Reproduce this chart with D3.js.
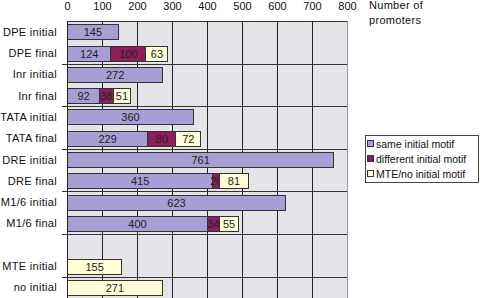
<!DOCTYPE html>
<html>
<head>
<meta charset="utf-8">
<script src="https://cdn.jsdelivr.net/npm/d3@7"></script>
<style>
  body { margin: 0; background: #fff; }
  svg { display: block; font-family: "Liberation Sans", Arial, sans-serif; }
</style>
</head>
<body>
<svg id="chart"></svg>
<script>
// categories top to bottom (one empty slot between M1/6 and MTE)
const categories = ['DPE initial', 'DPE final', 'Inr initial', 'Inr final', 'TATA initial', 'TATA final',
    'DRE initial', 'DRE final', 'M1/6 initial', 'M1/6 final', '', 'MTE initial', 'no initial'];
const sameMotif = [145, 124, 272, 92, 360, 229, 761, 415, 623, 400, 0, 0, 0];
const diffMotif = [0, 100, 0, 38, 0, 80, 0, 20, 0, 34, 0, 0, 0];
const noMotif = [0, 63, 0, 51, 0, 72, 0, 81, 0, 55, 0, 155, 271];
const seriesNames = ['same initial motif', 'different initial motif', 'MTE/no initial motif'];
const xTicks = [0, 100, 200, 300, 400, 500, 600, 700, 800];

const width = 480, height = 298;
const plotLeft = 67, plotRight = 347, plotTop = 21, plotBottom = 298;
const colors = ['#a69fd4', '#8c1f5a', '#fffed6'];

const svg = d3.select('#chart')
    .attr('width', width)
    .attr('height', height);

const keys = categories.map((c, i) => 'k' + i);
const rows = categories.map((c, i) => ({key: keys[i], s0: sameMotif[i], s1: diffMotif[i], s2: noMotif[i]}));

const x = d3.scaleLinear().domain([0, 800]).range([plotLeft, plotRight]);
const y = d3.scaleBand().domain(keys).range([plotTop, plotBottom]).paddingInner(0.3).paddingOuter(0.15);
const step = y.step();

// plot background
svg.append('rect')
    .attr('x', x(0)).attr('y', plotTop)
    .attr('width', x(800) - x(0)).attr('height', plotBottom - plotTop)
    .style('fill', '#e4e4e8');

// vertical grid lines
svg.append('g')
    .selectAll('line')
    .data(xTicks.slice(1))
    .join('line')
    .attr('x1', d => Math.round(x(d)) + 0.5).attr('x2', d => Math.round(x(d)) + 0.5)
    .attr('y1', plotTop).attr('y2', plotBottom)
    .style('stroke', d => d === 800 ? '#999' : '#222')
    .style('stroke-width', 1);

// horizontal grid lines every two categories
const hLines = d3.range(2, categories.length, 2).map(i => Math.round(y(keys[i]) - step * y.paddingInner() / 2) + 0.5);
svg.append('g')
    .selectAll('line')
    .data(hLines)
    .join('line')
    .attr('x1', x(0) - 5).attr('x2', x(800))
    .attr('y1', d => d).attr('y2', d => d)
    .style('stroke', '#333');

// top border
svg.append('line')
    .attr('x1', x(0)).attr('x2', x(800))
    .attr('y1', plotTop + 0.5).attr('y2', plotTop + 0.5)
    .style('stroke', '#333');

// stacked bars
const stack = d3.stack().keys(['s0', 's1', 's2'])(rows);
stack.forEach((layer, li) => {
    const g = svg.append('g');
    layer.forEach(seg => {
        const v = seg[1] - seg[0];
        if (v <= 0) return;
        const k = seg.data.key;
        g.append('rect')
            .attr('x', Math.round(x(seg[0])) + 0.5)
            .attr('y', Math.round(y(k)) + 0.5)
            .attr('width', Math.round(x(seg[1])) - Math.round(x(seg[0])))
            .attr('height', Math.round(y.bandwidth()))
            .style('fill', colors[li])
            .style('stroke', '#333')
            .style('stroke-width', 1);
        g.append('text')
            .attr('x', (x(seg[0]) + x(seg[1])) / 2 + 0.5)
            .attr('y', Math.round(y(k)) + y.bandwidth() / 2 + 4.5)
            .attr('text-anchor', 'middle')
            .style('font-size', '11px')
            .style('fill', '#222')
            .text(v);
    });
});

// left axis line
svg.append('line')
    .attr('x1', x(0) + 0.5).attr('x2', x(0) + 0.5)
    .attr('y1', plotTop).attr('y2', plotBottom)
    .style('stroke', '#222');

// category labels
svg.append('g')
    .selectAll('text')
    .data(categories)
    .join('text')
    .attr('x', 57)
    .attr('y', (d, i) => y(keys[i]) + y.bandwidth() / 2 + 4)
    .attr('text-anchor', 'end')
    .style('font-size', '11px')
    .style('letter-spacing', '0.3px')
    .style('fill', '#111')
    .text(d => d);

// top axis labels
const xAxis = svg.append('g')
    .attr('transform', `translate(0, ${plotTop})`)
    .call(d3.axisTop(x).tickValues(xTicks).tickSize(0).tickPadding(11));
xAxis.select('.domain').remove();
xAxis.selectAll('text')
    .style('font-size', '11px')
    .style('font-family', '"Liberation Sans", Arial, sans-serif')
    .style('fill', '#111');

// axis title
svg.append('text').attr('x', 369).attr('y', 9)
    .style('font-size', '11px').style('letter-spacing', '0.3px').style('fill', '#111').text('Number of');
svg.append('text').attr('x', 369).attr('y', 24)
    .style('font-size', '11px').style('letter-spacing', '0.3px').style('fill', '#111').text('promoters');

// legend
const legend = svg.append('g').attr('transform', 'translate(365, 135)');
legend.append('rect')
    .attr('x', 0.5).attr('y', 0.5)
    .attr('width', 113).attr('height', 47)
    .style('fill', '#fff')
    .style('stroke', '#444');
seriesNames.forEach((name, i) => {
    legend.append('rect')
        .attr('x', 2.5).attr('y', 5.5 + i * 15)
        .attr('width', 6).attr('height', 6)
        .style('fill', colors[i])
        .style('stroke', '#333');
    legend.append('text')
        .attr('x', 11).attr('y', 12.5 + i * 15)
        .style('font-size', '10.5px')
        .style('fill', '#111')
        .text(name);
});
</script>
</body>
</html>
